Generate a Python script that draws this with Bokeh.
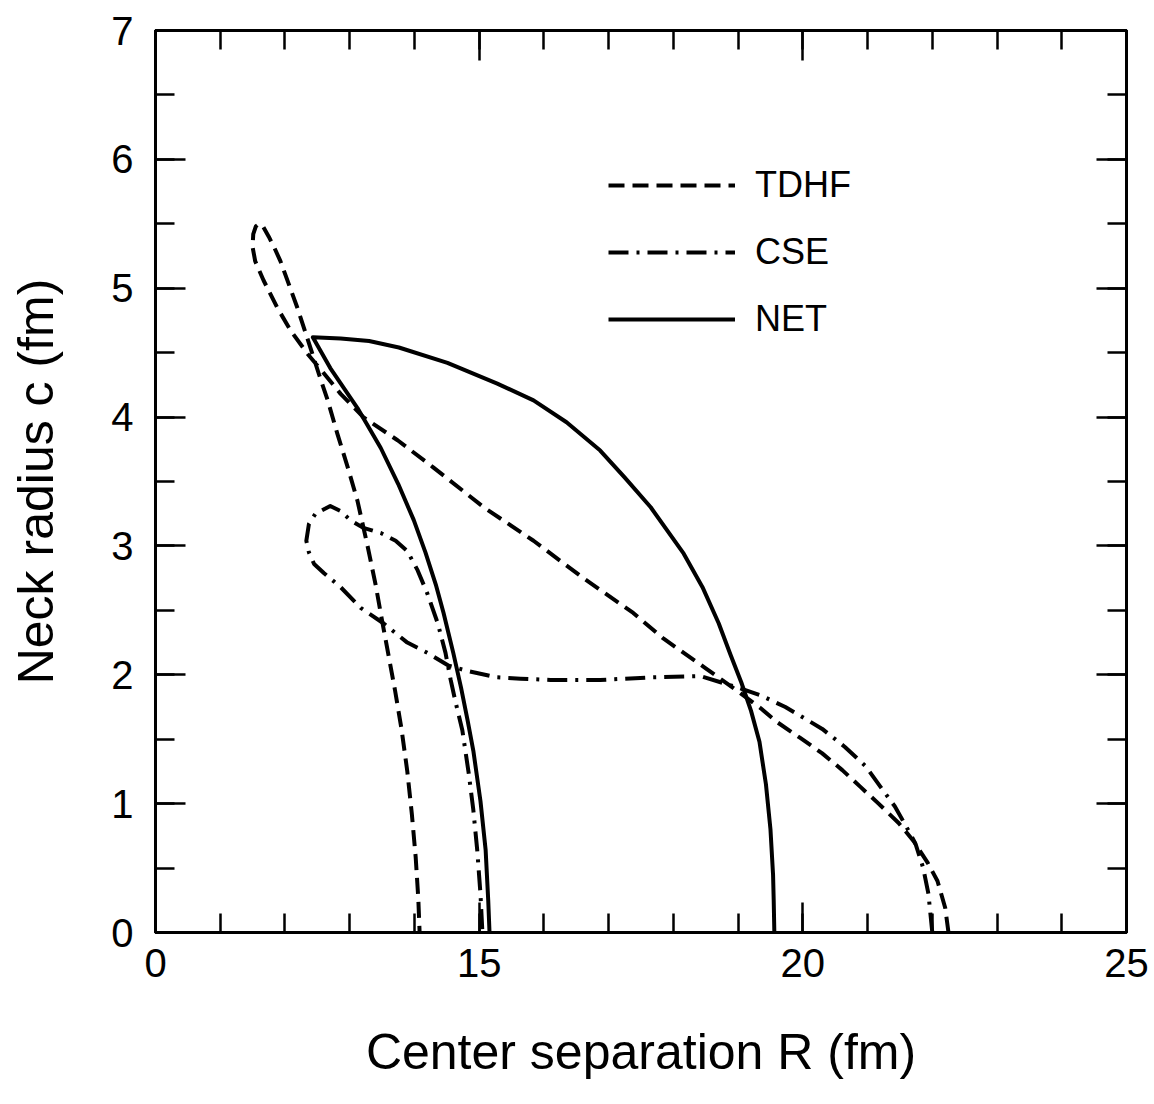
from bokeh.plotting import figure
from bokeh.models import LinearAxis, FixedTicker, Range1d, Legend, LegendItem
from bokeh.embed import file_html
from bokeh.resources import INLINE

# ---- data ----
tdhf_R = [22.25, 22.20, 22.08, 21.93, 21.71, 21.48, 21.17, 20.89, 20.61, 20.30, 19.96, 19.61,
          19.35, 19.00, 18.50, 17.85, 17.38, 16.61, 15.84, 15.07, 14.29, 13.74, 13.21, 12.86,
          12.60, 12.35, 12.09, 11.88, 11.67, 11.54, 11.50, 11.51, 11.55, 11.60, 11.66, 11.75,
          11.84, 11.93, 12.19, 12.36, 12.52, 12.66, 12.81, 12.97, 13.12, 13.28, 13.40, 13.50,
          13.60, 13.70, 13.80, 13.89, 13.96, 14.02, 14.06, 14.08]
tdhf_c = [0.00, 0.19, 0.40, 0.54, 0.71, 0.85, 1.00, 1.13, 1.26, 1.39, 1.51, 1.63,
          1.74, 1.87, 2.05, 2.28, 2.48, 2.75, 3.04, 3.30, 3.61, 3.82, 4.00, 4.18,
          4.34, 4.49, 4.67, 4.85, 5.06, 5.21, 5.32, 5.42, 5.48, 5.50, 5.48, 5.40,
          5.31, 5.21, 4.85, 4.59, 4.34, 4.13, 3.87, 3.61, 3.35, 2.99, 2.70, 2.42,
          2.15, 1.88, 1.58, 1.25, 0.92, 0.58, 0.26, 0.00]

cse_R = [22.00, 21.94, 21.86, 21.74, 21.60, 21.42, 21.20, 20.97, 20.65, 20.30, 19.73, 19.35,
         19.00, 18.42, 17.65, 16.87, 16.10, 15.64, 15.28, 14.82, 14.53, 14.20, 13.89, 13.52,
         13.17, 12.86, 12.60, 12.45, 12.37, 12.33, 12.37, 12.47, 12.70, 12.86, 13.01, 13.21,
         13.48, 13.71, 13.89, 14.05, 14.20, 14.36, 14.48, 14.56, 14.63, 14.74, 14.84, 14.91,
         14.97, 15.02, 15.05]
cse_c = [0.00, 0.30, 0.50, 0.69, 0.82, 0.98, 1.13, 1.29, 1.44, 1.58, 1.75, 1.84,
         1.90, 1.99, 1.98, 1.96, 1.96, 1.97, 1.98, 2.03, 2.07, 2.17, 2.25, 2.40,
         2.52, 2.68, 2.79, 2.86, 2.95, 3.04, 3.17, 3.25, 3.31, 3.27, 3.20, 3.14,
         3.10, 3.04, 2.96, 2.81, 2.63, 2.40, 2.17, 1.96, 1.80, 1.57, 1.23, 0.95,
         0.64, 0.30, 0.00]

net_R = [19.56, 19.55, 19.54, 19.50, 19.43, 19.33, 19.20, 19.05, 18.88, 18.70, 18.45, 18.16,
         17.65, 17.25, 16.87, 16.35, 15.84, 15.28, 14.51, 13.76, 13.30, 12.86, 12.43, 12.70,
         13.12, 13.48, 13.75, 13.99, 14.17, 14.33, 14.45, 14.60, 14.72, 14.82, 14.91, 15.02,
         15.10, 15.14, 15.16]
net_c = [0.00, 0.25, 0.45, 0.80, 1.15, 1.48, 1.72, 1.94, 2.16, 2.40, 2.68, 2.94,
         3.30, 3.53, 3.74, 3.96, 4.13, 4.26, 4.42, 4.54, 4.59, 4.61, 4.62, 4.38,
         4.07, 3.76, 3.48, 3.20, 2.95, 2.70, 2.48, 2.17, 1.90, 1.65, 1.41, 1.02,
         0.64, 0.25, 0.00]

x_major = [10, 15, 20, 25]
x_labels = {10: "0"}
y_major = [0, 1, 2, 3, 4, 5, 6, 7]

FONT = "Liberation Sans"

p = figure(frame_width=971, frame_height=902,
           x_range=Range1d(10, 25), y_range=Range1d(0, 7),
           output_backend="svg", toolbar_location=None,
           min_border_left=155, min_border_right=28,
           min_border_top=30, min_border_bottom=172,
           background_fill_color="white", border_fill_color="white")
p.grid.visible = False
p.outline_line_color = "black"
p.outline_line_width = 3

xt = FixedTicker(ticks=x_major, minor_ticks=list(range(10, 26)))
yt = FixedTicker(ticks=y_major, minor_ticks=[i * 0.5 for i in range(15)])


def style(ax, labels=True):
    ax.axis_line_width = 3
    ax.axis_line_color = "black"
    ax.major_tick_in = 30
    ax.major_tick_out = 0
    ax.minor_tick_in = 19
    ax.minor_tick_out = 0
    ax.major_tick_line_width = 2.5
    ax.minor_tick_line_width = 2.5
    ax.major_tick_line_color = "black"
    ax.minor_tick_line_color = "black"
    ax.major_label_text_font = FONT
    ax.major_label_text_font_size = "40px"
    ax.major_label_text_color = "black" if labels else None
    ax.axis_label_text_font = FONT
    ax.axis_label_text_font_size = "50px"
    ax.axis_label_text_font_style = "normal"
    ax.axis_label_text_color = "black"


p.xaxis.ticker = xt
p.xaxis.major_label_overrides = x_labels
p.xaxis.axis_label = "Center separation R (fm)"
style(p.xaxis[0])
p.xaxis.major_label_standoff = 16
p.xaxis.axis_label_standoff = 44

p.yaxis.ticker = yt
p.yaxis.axis_label = "Neck radius c (fm)"
style(p.yaxis[0])
p.yaxis.major_label_standoff = 22
p.yaxis.axis_label_standoff = 44

top = LinearAxis(ticker=xt)
style(top, labels=False)
p.add_layout(top, "above")
right = LinearAxis(ticker=yt)
style(right, labels=False)
p.add_layout(right, "right")

r1 = p.line(tdhf_R, tdhf_c, line_color="black", line_width=4, line_dash="16 8", line_join="round")
r2 = p.line(cse_R, cse_c, line_color="black", line_width=4, line_dash="20 8 3 8", line_join="round")
r3 = p.line(net_R, net_c, line_color="black", line_width=4, line_join="round")

legend = Legend(items=[LegendItem(label="TDHF", renderers=[r1]),
                       LegendItem(label="CSE", renderers=[r2]),
                       LegendItem(label="NET", renderers=[r3])],
                location=(453, 592), glyph_width=127, glyph_height=40,
                label_height=40, spacing=25, label_standoff=20,
                padding=0, margin=0, border_line_color=None,
                background_fill_alpha=0, label_text_font=FONT,
                label_text_font_size="36px", label_text_color="black")
p.add_layout(legend)

open("out.html", "w").write(file_html(p, INLINE))
